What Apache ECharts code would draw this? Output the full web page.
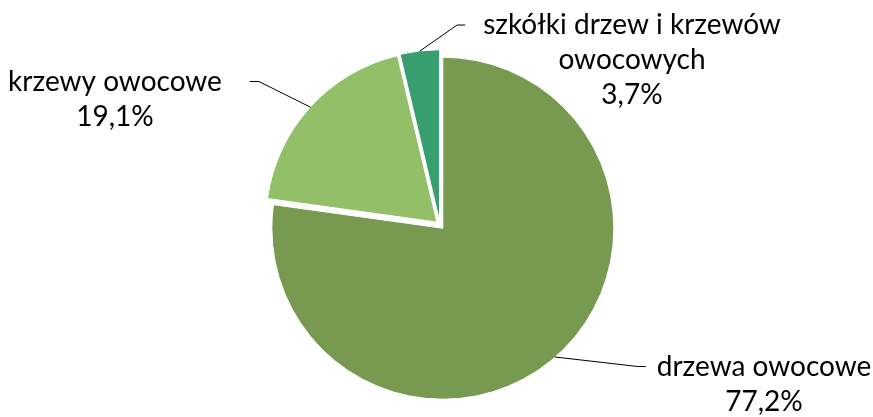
<!DOCTYPE html>
<html>
<head>
<meta charset="utf-8">
<script src="https://cdn.jsdelivr.net/npm/echarts@6/dist/echarts.min.js"></script>
<style>
html,body{margin:0;padding:0;background:#fff;}
#chart{width:873px;height:417px;}
</style>
</head>
<body>
<div id="chart"></div>
<script>
const categories = ['drzewa owocowe', 'krzewy owocowe', 'szkółki drzew i krzewów\nowocowych'];
const shares = [77.2, 19.1, 3.7];
const colors = ['#779A50', '#92BF67', '#389D6F'];
// label block centres and leader gaps (layout only)
const labelPos = [[764, 384], [115, 99], [632, 60]];
const leaderGap = [11, 28, 18];
const LINE_H = 35;

const chart = echarts.init(document.getElementById('chart'), null, {renderer: 'canvas'});
const fmt = v => v.toFixed(1).replace('.', ',') + '%';

const common = {
  type: 'pie',
  center: [440, 225],
  startAngle: 90,
  clockwise: true,
  emphasis: {disabled: true},
  silent: true
};

chart.setOption({
  animation: false,
  series: [
    Object.assign({}, common, {
      radius: [0, 171],
      selectedMode: 'multiple',
      selectedOffset: 4.3,
      itemStyle: {borderColor: '#fff', borderWidth: 1},
      label: {show: false},
      labelLine: {show: false},
      data: categories.map((c, i) => ({
        name: c, value: shares[i], selected: true,
        itemStyle: {color: colors[i]}
      }))
    }),
    Object.assign({}, common, {
      radius: [0, 175],
      z: 3,
      itemStyle: {color: 'rgba(0,0,0,0)', borderWidth: 0},
      label: {
        show: true,
        position: 'outside',
        formatter: p => p.name + '\n' + fmt(shares[p.dataIndex]),
        fontFamily: 'Lato',
        fontSize: 28,
        lineHeight: LINE_H,
        color: '#000'
      },
      labelLine: {show: true, length: 20, length2: 10, lineStyle: {color: '#000', width: 1}},
      labelLayout: p => {
        const i = p.dataIndex;
        const [cx, cy] = labelPos[i];
        const w = p.labelRect.width, h = p.labelRect.height;
        const out = {x: cx, y: cy, align: 'center', verticalAlign: 'middle'};
        if (p.labelLinePoints && p.labelLinePoints.length) {
          const a = p.labelLinePoints[0];
          const leftSide = cx < a[0];
          const ey = cy - h / 2 + LINE_H / 2;
          const ex = leftSide ? cx + w / 2 + leaderGap[i] : cx - w / 2 - leaderGap[i];
          const bx = leftSide ? ex + 9 : ex - 8;
          out.labelLinePoints = [[a[0], a[1]], [bx, ey], [ex, ey]];
        }
        return out;
      },
      data: categories.map((c, i) => ({name: c, value: shares[i]}))
    })
  ]
});
</script>
</body>
</html>
